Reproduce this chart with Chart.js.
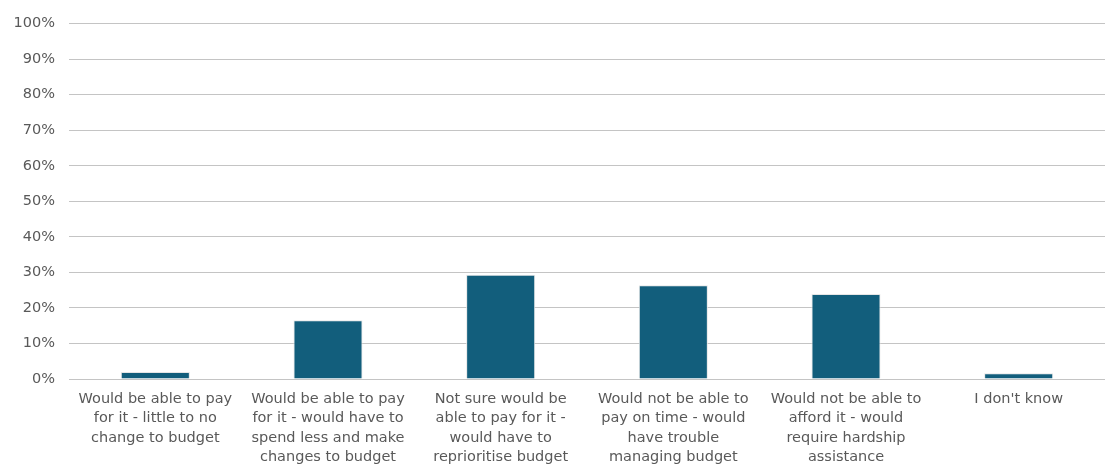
<!DOCTYPE html>
<html>
<head>
<meta charset="utf-8">
<script src="https://cdn.jsdelivr.net/npm/chart.js@4/dist/chart.umd.min.js"></script>
<style>
  html, body { margin: 0; padding: 0; background: #fff; }
  #wrap { width: 1105px; height: 466px; }
</style>
</head>
<body>
<div id="wrap"><canvas id="budgetChart" width="1105" height="466"></canvas></div>
<script>
// Budget impact chart data
const categories = [
  ['Would be able to pay', 'for it - little to no', 'change to budget'],
  ['Would be able to pay', 'for it - would have to', 'spend less and make', 'changes to budget'],
  ['Not sure would be', 'able to pay for it -', 'would have to', 'reprioritise budget'],
  ['Would not be able to', 'pay on time - would', 'have trouble', 'managing budget'],
  ['Would not be able to', 'afford it - would', 'require hardship', 'assistance'],
  ["I don't know"]
];
const shares = [2.0, 16.5, 29.3, 26.4, 23.9, 1.6];
const yTicks = [0, 10, 20, 30, 40, 50, 60, 70, 80, 90, 100];

const labelFont = { family: '"DejaVu Sans", sans-serif', size: 14.5, lineHeight: 1.32 };

const ctx = document.getElementById('budgetChart');
new Chart(ctx, {
  type: 'bar',
  data: {
    labels: categories,
    datasets: [{
      data: shares,
      backgroundColor: '#125e7c',
      borderColor: '#e6e6e6',
      borderWidth: 1,
      barPercentage: 0.4,
      categoryPercentage: 1
    }]
  },
  options: {
    responsive: false,
    animation: false,
    layout: { padding: { top: 8, right: 0, left: 0, bottom: 0 } },
    plugins: {
      legend: { display: false },
      tooltip: { enabled: false }
    },
    scales: {
      x: {
        grid: { display: false },
        border: { display: false },
        ticks: {
          color: '#595959',
          font: labelFont,
          padding: 3,
          maxRotation: 0,
          autoSkip: false
        },
        afterFit(scale) { scale.height = 87; }
      },
      y: {
        min: 0,
        max: 100,
        afterBuildTicks(scale) {
          scale.ticks = yTicks.map(v => ({ value: v }));
        },
        grid: { color: '#c4c4c4', lineWidth: 1, drawTicks: false },
        border: { display: false },
        ticks: {
          color: '#595959',
          font: labelFont,
          padding: 14,
          callback: v => v + '%'
        },
        afterFit(scale) { scale.width = 69; }
      }
    }
  }
});
</script>
</body>
</html>
